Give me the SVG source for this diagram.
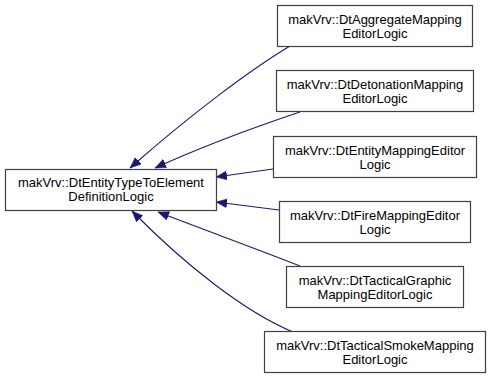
<svg xmlns="http://www.w3.org/2000/svg" width="491" height="379" viewBox="0 0 491 379">
<style>
.box{fill:#ffffff;stroke:#404040;stroke-width:1.2}
.t{font-family:"Liberation Sans",Arial,sans-serif;font-size:13px;fill:#000000;text-anchor:middle}
.e{fill:none;stroke:#191970;stroke-width:1.1}
</style>
<defs>
<marker id="ah" markerUnits="userSpaceOnUse" markerWidth="12" markerHeight="10" refX="11" refY="4.5" orient="auto">
<path d="M0,0 L11,4.5 L0,9 z" fill="#191970" stroke="#191970" stroke-width="0.5"/>
</marker>
</defs>
<g id="connectors">
<path class="e" d="M290,46 C250,70 190,115 130,168" marker-end="url(#ah)"/>
<path class="e" d="M300,112 C270,122 210,143 155,168" marker-end="url(#ah)"/>
<path class="e" d="M273,169 L216,177" marker-end="url(#ah)"/>
<path class="e" d="M279,210 L216,202" marker-end="url(#ah)"/>
<path class="e" d="M300,266 C265,252 210,232 158,212" marker-end="url(#ah)"/>
<path class="e" d="M293,332 C245,312 185,265 132,211" marker-end="url(#ah)"/>
</g>
<g id="main">
<rect class="box" x="5.5" y="169.5" width="211" height="41"/>
<text class="t" x="111" y="187">makVrv::DtEntityTypeToElement</text>
<text class="t" x="111" y="201">DefinitionLogic</text>
</g>
<g id="aggregate">
<rect class="box" x="277.5" y="5.5" width="195" height="41"/>
<text class="t" x="375" y="23.5">makVrv::DtAggregateMapping</text>
<text class="t" x="375" y="37.5">EditorLogic</text>
</g>
<g id="detonation">
<rect class="box" x="276.5" y="70.5" width="197" height="41"/>
<text class="t" x="375" y="88.5">makVrv::DtDetonationMapping</text>
<text class="t" x="375" y="102.5">EditorLogic</text>
</g>
<g id="entity">
<rect class="box" x="273.5" y="136.5" width="203" height="41"/>
<text class="t" x="375" y="154.5">makVrv::DtEntityMappingEditor</text>
<text class="t" x="375" y="168.5">Logic</text>
</g>
<g id="fire">
<rect class="box" x="279.5" y="201.5" width="191" height="41"/>
<text class="t" x="375" y="219.5">makVrv::DtFireMappingEditor</text>
<text class="t" x="375" y="233.5">Logic</text>
</g>
<g id="tactgraphic">
<rect class="box" x="286.5" y="266.5" width="177" height="41"/>
<text class="t" x="375" y="284.5">makVrv::DtTacticalGraphic</text>
<text class="t" x="375" y="298.5">MappingEditorLogic</text>
</g>
<g id="tactsmoke">
<rect class="box" x="264.5" y="331.5" width="221" height="41"/>
<text class="t" x="375" y="349.5">makVrv::DtTacticalSmokeMapping</text>
<text class="t" x="375" y="363.5">EditorLogic</text>
</g>
</svg>
